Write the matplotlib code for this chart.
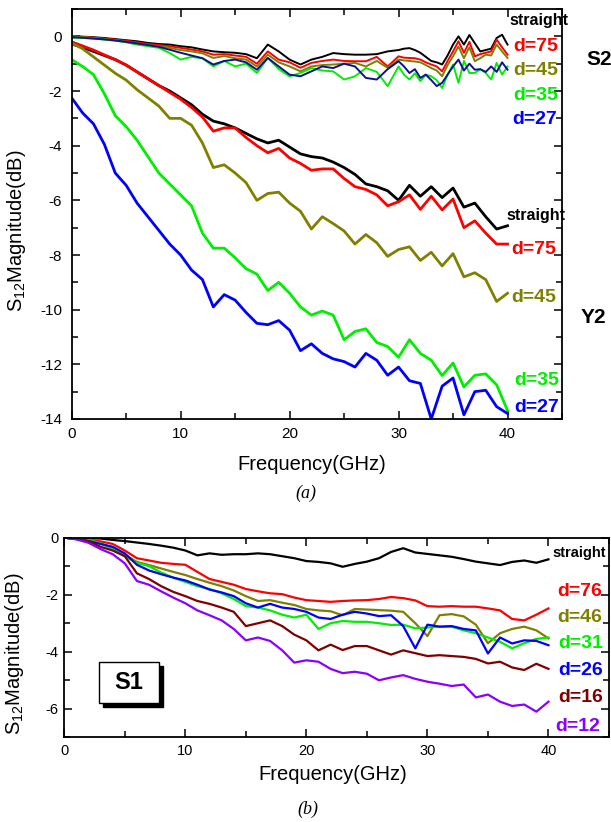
import numpy as np
import matplotlib
matplotlib.use("Agg")
import matplotlib.pyplot as plt
from matplotlib.ticker import MultipleLocator
from matplotlib.patches import Rectangle

plt.rcParams['font.family'] = ['Liberation Sans', 'DejaVu Sans']
plt.rcParams['mathtext.default'] = 'regular'
plt.rcParams['axes.unicode_minus'] = False

# ---------------- data, panel (a) ----------------
freq = np.arange(0, 41)          # 1 GHz steps, 0..40
# S2 group is noisier at the top end, so it gets half-steps above 30 GHz
freq_s2 = np.concatenate([np.arange(0, 31), np.arange(30.5, 40.5, 0.5)])

s2_straight = [0.00, -0.01, -0.03, -0.06, -0.10, -0.14, -0.18, -0.24, -0.28, -0.30, -0.36,
               -0.40, -0.48, -0.55, -0.58, -0.60, -0.65, -0.80, -0.30, -0.55, -0.85,
               -1.03, -0.85, -0.75, -0.61, -0.65, -0.67, -0.67, -0.65, -0.55, -0.50,
               -0.45, -0.43, -0.50, -0.60, -0.75, -0.90, -0.95, -1.03, -0.70, -0.30,
               0.00, -0.30, 0.05, -0.25, -0.55, -0.50, -0.45, -0.06, 0.06, -0.30]
s2_d75 = [0.00, -0.02, -0.05, -0.08, -0.12, -0.16, -0.22, -0.28, -0.32, -0.36, -0.42,
          -0.48, -0.55, -0.67, -0.65, -0.70, -0.75, -1.00, -0.55, -0.85, -0.95,
          -1.15, -0.97, -0.90, -0.85, -0.90, -0.91, -0.91, -0.75, -1.10, -0.73,
          -0.78, -0.79, -0.80, -0.85, -0.95, -1.03, -1.10, -1.28, -0.90, -0.55,
          -0.18, -0.60, -0.20, -0.73, -0.65, -0.60, -0.55, -0.12, -0.40, -0.67]
s2_d45 = [0.00, -0.02, -0.06, -0.10, -0.14, -0.20, -0.26, -0.32, -0.36, -0.42, -0.50,
          -0.55, -0.62, -0.79, -0.72, -0.80, -0.85, -1.10, -0.67, -0.95, -1.10,
          -1.28, -1.10, -1.05, -1.03, -1.00, -0.97, -1.10, -0.90, -1.15, -0.85,
          -0.88, -0.90, -0.92, -0.95, -1.05, -1.16, -1.25, -1.46, -1.05, -0.73,
          -0.37, -0.80, -0.40, -0.91, -0.80, -0.67, -0.70, -0.30, -0.55, -0.79]
s2_d35 = [-0.05, -0.06, -0.08, -0.12, -0.16, -0.22, -0.30, -0.36, -0.42, -0.61, -0.85,
          -0.75, -0.80, -1.10, -0.90, -1.10, -1.00, -1.34, -0.79, -1.20, -1.46,
          -1.34, -1.16, -1.25, -1.28, -1.58, -1.46, -1.16, -1.30, -1.82, -1.10,
          -1.40, -1.58, -1.35, -1.64, -1.40, -1.46, -1.60, -1.89, -1.40, -1.03,
          -1.70, -0.90, -1.34, -1.34, -1.20, -1.34, -1.58, -0.97, -1.40, -1.10]
s2_d27 = [-0.03, -0.05, -0.08, -0.11, -0.15, -0.20, -0.26, -0.32, -0.38, -0.49, -0.60,
          -0.70, -0.80, -1.03, -0.90, -0.85, -0.95, -1.22, -0.79, -1.10, -1.40,
          -1.46, -1.28, -1.10, -1.16, -1.00, -1.10, -1.52, -1.58, -1.20, -0.91,
          -1.10, -1.34, -1.20, -1.52, -1.40, -1.60, -1.82, -1.70, -1.40, -1.10,
          -0.85, -1.25, -1.00, -1.22, -1.20, -1.30, -1.10, -1.30, -0.95, -1.22]

y2_straight = [-0.28, -0.40, -0.55, -0.70, -0.85, -1.05, -1.30, -1.55, -1.80, -2.00, -2.25,
               -2.50, -2.85, -3.10, -3.20, -3.35, -3.55, -3.75, -3.90, -3.80, -4.05,
               -4.30, -4.40, -4.45, -4.60, -4.80, -5.05, -5.40, -5.50, -5.65, -6.00,
               -5.45, -5.85, -5.50, -5.90, -5.55, -6.25, -6.10, -6.60, -7.05, -6.93]
y2_d75 = [-0.20, -0.35, -0.50, -0.68, -0.85, -1.05, -1.30, -1.55, -1.80, -2.05, -2.30,
          -2.60, -2.95, -3.47, -3.35, -3.35, -3.70, -4.00, -4.26, -4.10, -4.45,
          -4.65, -4.90, -4.85, -4.85, -5.20, -5.50, -5.60, -5.80, -6.20, -6.05,
          -5.80, -6.33, -5.85, -6.35, -5.95, -7.00, -6.75, -7.20, -7.60, -7.60]
y2_d45 = [-0.25, -0.45, -0.75, -1.05, -1.35, -1.60, -1.95, -2.25, -2.55, -3.00, -3.00,
          -3.25, -3.90, -4.80, -4.70, -5.00, -5.35, -6.00, -5.75, -5.70, -6.10,
          -6.40, -7.05, -6.60, -6.85, -7.12, -7.60, -7.25, -7.55, -8.05, -7.80,
          -7.70, -8.20, -7.90, -8.40, -7.95, -8.80, -8.65, -8.90, -9.70, -9.40]
y2_d35 = [-0.85, -1.10, -1.40, -2.10, -2.90, -3.30, -3.80, -4.40, -5.00, -5.40, -5.80,
          -6.20, -7.20, -7.75, -7.75, -8.10, -8.50, -8.70, -9.30, -9.00, -9.40,
          -9.90, -10.20, -10.05, -10.20, -11.10, -10.80, -10.70, -11.20, -11.35, -11.74,
          -11.10, -11.60, -11.85, -12.41, -11.95, -12.83, -12.40, -12.35, -12.75, -13.69]
y2_d27 = [-2.25, -2.80, -3.20, -3.95, -5.00, -5.45, -6.10, -6.60, -7.10, -7.60, -8.00,
          -8.55, -8.90, -9.90, -9.45, -9.65, -10.10, -10.50, -10.55, -10.40, -10.75,
          -11.50, -11.25, -11.60, -11.80, -11.90, -12.10, -11.60, -11.85, -12.40, -12.10,
          -12.60, -12.70, -14.00, -12.80, -12.50, -13.85, -13.00, -12.95, -13.55, -13.80]

# ---------------- data, panel (b) ----------------
b_straight = [0.00, -0.01, -0.02, -0.03, -0.08, -0.12, -0.17, -0.22, -0.28, -0.35, -0.45,
              -0.62, -0.55, -0.60, -0.58, -0.58, -0.55, -0.58, -0.65, -0.72, -0.82,
              -0.85, -0.90, -1.02, -0.92, -0.84, -0.72, -0.50, -0.37, -0.52, -0.57,
              -0.62, -0.67, -0.75, -0.84, -0.90, -0.96, -0.85, -0.80, -0.88, -0.76]
b_d76 = [0.00, -0.03, -0.08, -0.13, -0.22, -0.45, -0.72, -0.80, -0.88, -0.92, -0.95,
         -1.20, -1.45, -1.55, -1.65, -1.80, -1.88, -1.95, -1.98, -2.10, -2.19,
         -2.22, -2.25, -2.22, -2.20, -2.19, -2.15, -2.08, -2.12, -2.20, -2.40,
         -2.42, -2.40, -2.42, -2.42, -2.48, -2.55, -2.85, -2.90, -2.70, -2.48]
b_d46 = [0.00, -0.03, -0.10, -0.20, -0.35, -0.60, -0.85, -0.96, -1.08, -1.20, -1.31,
         -1.45, -1.58, -1.70, -1.85, -2.05, -2.22, -2.19, -2.28, -2.36, -2.50,
         -2.55, -2.58, -2.72, -2.50, -2.52, -2.54, -2.56, -2.60, -3.00, -3.45,
         -2.72, -2.68, -2.76, -3.05, -3.70, -3.35, -3.20, -3.12, -3.25, -3.53]
b_d31 = [0.00, -0.03, -0.08, -0.20, -0.40, -0.65, -0.88, -1.00, -1.22, -1.40, -1.55,
         -1.70, -1.80, -1.95, -2.15, -2.40, -2.45, -2.55, -2.70, -2.80, -2.70,
         -3.20, -3.00, -2.92, -2.95, -2.95, -3.00, -3.06, -3.05, -3.18, -3.15,
         -3.12, -3.12, -3.25, -3.35, -3.50, -3.65, -3.88, -3.70, -3.55, -3.50]
b_d26 = [0.00, -0.05, -0.12, -0.22, -0.32, -0.55, -0.95, -1.15, -1.28, -1.40, -1.50,
         -1.65, -1.82, -1.92, -2.05, -2.30, -2.45, -2.32, -2.45, -2.50, -2.60,
         -2.80, -2.85, -2.70, -2.60, -2.66, -2.75, -2.72, -3.10, -3.88, -3.05,
         -3.12, -3.10, -3.20, -3.25, -4.06, -3.50, -3.71, -3.60, -3.62, -3.77]
b_d16 = [0.00, -0.04, -0.12, -0.32, -0.45, -0.65, -1.25, -1.45, -1.70, -1.90, -2.05,
         -2.22, -2.32, -2.45, -2.60, -3.10, -3.00, -2.90, -3.10, -3.40, -3.60,
         -3.95, -3.75, -3.94, -3.80, -3.80, -3.95, -4.10, -3.95, -4.05, -4.15,
         -4.12, -4.15, -4.18, -4.25, -4.41, -4.35, -4.55, -4.64, -4.42, -4.60]
b_d12 = [0.00, -0.06, -0.18, -0.40, -0.58, -0.90, -1.52, -1.65, -1.88, -2.10, -2.30,
         -2.55, -2.72, -2.90, -3.20, -3.60, -3.50, -3.62, -3.95, -4.38, -4.30,
         -4.35, -4.60, -4.75, -4.70, -4.77, -5.00, -4.90, -4.82, -4.95, -5.05,
         -5.12, -5.20, -5.15, -5.60, -5.50, -5.75, -5.90, -5.85, -6.10, -5.75]

RED, OLIVE, GREEN, BLUE = '#ff0000', '#808000', '#00ee00', '#0000ff'
NAVY, BROWN, VIOLET = '#101090', '#800000', '#8a00ff'


def style_axes(ax, ylo, yhi, labelsize):
    ax.set_xlim(0, 45)
    ax.set_ylim(ylo, yhi)
    ax.xaxis.set_major_locator(MultipleLocator(10))
    ax.xaxis.set_minor_locator(MultipleLocator(5))
    ax.yaxis.set_major_locator(MultipleLocator(2))
    ax.yaxis.set_minor_locator(MultipleLocator(1))
    ax.tick_params(which='both', direction='in', top=True, right=True, width=1.1,
                   labelsize=labelsize)
    ax.tick_params(which='major', length=5.5)
    ax.tick_params(which='minor', length=4)
    for sp in ax.spines.values():
        sp.set_linewidth(1.3)


fig = plt.figure(figsize=(6.11, 8.22), dpi=100)

# ---------------- (a) ----------------
ax1 = fig.add_axes([0.1173, 0.4903, 0.8025, 0.4987])
for vals, col in [(s2_straight, 'k'), (s2_d75, RED), (s2_d45, OLIVE),
                  (s2_d35, GREEN), (s2_d27, NAVY)]:
    ax1.plot(freq_s2, vals, color=col, lw=1.4)
for vals, col in [(y2_straight, 'k'), (y2_d75, RED), (y2_d45, OLIVE),
                  (y2_d35, GREEN), (y2_d27, BLUE)]:
    ax1.plot(freq, vals, color=col, lw=2.0)
style_axes(ax1, -14, 1, 11)
ax1.tick_params(axis='y', pad=7)
ax1.tick_params(axis='x', pad=6)
ax1.set_xlabel('Frequency(GHz)', fontsize=14.5)
ax1.set_ylabel(r'S$_{12}$Magnitude(dB)', fontsize=14.5)
ax1.xaxis.set_label_coords(0.49, -0.088)
ax1.yaxis.set_label_coords(-0.089, 0.46)

kw = dict(fontweight='bold', va='center', ha='left', clip_on=False)
ax1.text(40.15, 0.58, 'straight', color='k', fontsize=11.5, **kw)
ax1.text(40.5, -0.36, 'd=75', color=RED, fontsize=14, **kw)
ax1.text(40.5, -1.24, 'd=45', color=OLIVE, fontsize=14, **kw)
ax1.text(40.5, -2.16, 'd=35', color=GREEN, fontsize=14, **kw)
ax1.text(40.4, -3.04, 'd=27', color=BLUE, fontsize=14, **kw)
ax1.text(47.2, -0.85, 'S2', color='k', fontsize=15, **kw)

ax1.text(39.9, -6.56, 'straight', color='k', fontsize=11.5, **kw)
ax1.text(40.3, -7.81, 'd=75', color=RED, fontsize=14, **kw)
ax1.text(40.3, -9.56, 'd=45', color=OLIVE, fontsize=14, **kw)
ax1.text(40.6, -12.58, 'd=35', color=GREEN, fontsize=14, **kw)
ax1.text(40.6, -13.57, 'd=27', color=BLUE, fontsize=14, **kw)
ax1.text(46.7, -10.29, 'Y2', color='k', fontsize=15, **kw)

# ---------------- (b) ----------------
ax2 = fig.add_axes([0.1052, 0.1030, 0.8915, 0.2429])
for vals, col in [(b_straight, 'k'), (b_d76, RED), (b_d46, OLIVE), (b_d31, GREEN),
                  (b_d26, BLUE), (b_d16, BROWN), (b_d12, VIOLET)]:
    ax2.plot(freq, vals, color=col, lw=1.6)
style_axes(ax2, -7, 0, 10.5)
ax2.tick_params(axis='y', pad=4)
ax2.tick_params(axis='x', pad=5)
ax2.set_xlabel('Frequency(GHz)', fontsize=14.5)
ax2.set_ylabel(r'S$_{12}$Magnitude(dB)', fontsize=14.5)
ax2.xaxis.set_label_coords(0.493, -0.14)
ax2.yaxis.set_label_coords(-0.07, 0.42)

ax2.text(40.3, -0.53, 'straight', color='k', fontsize=10.5, **kw)
ax2.text(40.7, -1.87, 'd=76', color=RED, fontsize=14, **kw)
ax2.text(40.7, -2.79, 'd=46', color=OLIVE, fontsize=14, **kw)
ax2.text(40.8, -3.71, 'd=31', color=GREEN, fontsize=14, **kw)
ax2.text(40.8, -4.64, 'd=26', color=BLUE, fontsize=14, **kw)
ax2.text(40.8, -5.60, 'd=16', color=BROWN, fontsize=14, **kw)
ax2.text(40.6, -6.61, 'd=12', color=VIOLET, fontsize=14, **kw)

# S1 box with drop shadow
ax2.add_patch(Rectangle((3.22, -5.95), 4.94, 1.46, facecolor='k', edgecolor='k', zorder=5))
ax2.add_patch(Rectangle((2.89, -5.81), 4.94, 1.46, facecolor='white', edgecolor='k',
                        lw=1.0, zorder=6))
ax2.text(5.36, -5.08, 'S1', fontsize=17, fontweight='bold', ha='center', va='center', zorder=7)

# panel captions
cap = dict(fontsize=13, style='italic', family='Liberation Serif', ha='center', va='center')
fig.text(306 / 611, 1 - 493 / 822, '(a)', **cap)
fig.text(308 / 611, 1 - 809 / 822, '(b)', **cap)

fig.savefig('out.png', dpi=100)
